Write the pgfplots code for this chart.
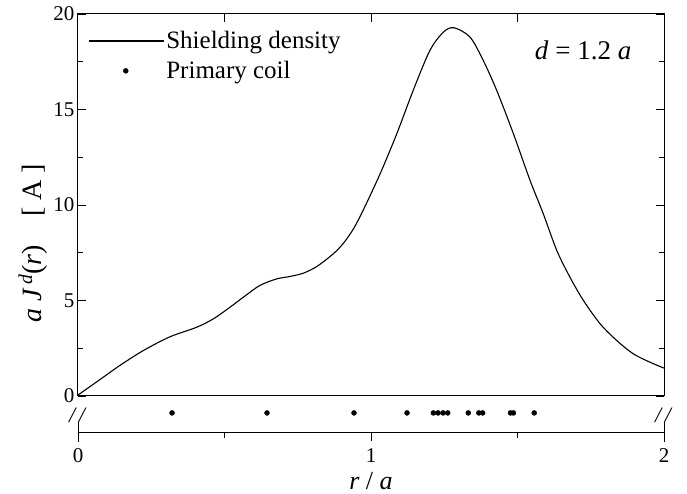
\documentclass[border=0pt]{standalone}
\usepackage{pgfplots}
\pgfplotsset{compat=1.18}
\usepackage{pgfplotstable}
\usepackage{fontspec}
\setmainfont{Liberation Serif}

% shielding current density
\pgfplotstableread{
r j
0.000 0.05
0.086 0.98
0.143 1.60
0.223 2.38
0.314 3.10
0.405 3.60
0.462 4.04
0.519 4.65
0.564 5.17
0.621 5.79
0.678 6.13
0.724 6.26
0.769 6.43
0.815 6.78
0.871 7.44
0.906 8.00
0.940 8.75
0.974 9.75
1.031 11.63
1.088 13.73
1.144 16.00
1.201 18.09
1.247 19.05
1.283 19.28
1.338 18.79
1.383 17.57
1.429 16.00
1.486 13.73
1.543 11.28
1.588 9.54
1.634 7.62
1.679 6.22
1.725 5.00
1.782 3.78
1.839 2.90
1.895 2.21
1.952 1.77
2.000 1.46
}\shield

% primary coil turns
\pgfplotstableread{
r y
0.321 0.53
0.645 0.53
0.942 0.53
1.123 0.53
1.213 0.53
1.229 0.53
1.246 0.53
1.262 0.53
1.332 0.53
1.368 0.53
1.381 0.53
1.476 0.53
1.486 0.53
1.557 0.53
}\coil

\begin{document}
\begin{tikzpicture}
\useasboundingbox (-78pt,-98pt) rectangle (609pt,396pt);
\begin{axis}[
    at={(0pt,0pt)}, anchor=south west,
    width=586pt, height=382pt, scale only axis,
    xmin=0, xmax=2, ymin=0, ymax=20,
    xtick={0.5,1,1.5}, xticklabels={}, xtick pos=right,
    ytick={0,5,10,15,20}, minor y tick num=1,
    tick align=inside,
    major tick length=8pt, minor tick length=5pt,
    tick style={black, line width=0.8pt},
    axis line style={line width=1pt},
    ticklabel style={font=\fontsize{21}{23}\selectfont},
    /pgf/number format/assume math mode=true,
    ylabel={\textit{a J}\textsuperscript{\,\textit{d}}(\textit{r})\quad[ A ]},
    every axis y label/.style={at={(rel axis cs:-0.077,0.40)}, rotate=90, anchor=center,
        font=\fontsize{28}{30}\selectfont},
    legend cell align=left,
    legend style={at={(0.012,0.965)}, anchor=north west, draw=none, fill=none,
        font=\fontsize{25}{27}\selectfont, row sep=7pt},
    clip=false,
    ]
\addplot [black, line width=1.1pt, smooth, tension=0.5,
    legend image code/.code={\draw[black, line width=1.1pt] (0pt,0pt) -- (75pt,0pt);}]
    table [x=r, y=j] {\shield};
\addlegendentry{Shielding density}
\addlegendimage{only marks, mark=*, black,
    legend image code/.code={\fill[black] (37pt,0pt) circle (2.5pt);}}
\addlegendentry{Primary coil}
\node [font=\fontsize{27}{29}\selectfont] at (rel axis cs:0.862,0.905)
    {\textit{d} = 1.2 \textit{a}};
\end{axis}

\begin{axis}[
    at={(0pt,-36pt)}, anchor=south west,
    width=586pt, height=36pt, scale only axis,
    xmin=0, xmax=2, ymin=0, ymax=1,
    axis x line*=bottom, axis y line=none,
    xtick={0,1,2}, minor xtick={0.5,1.5},
    tick align=outside,
    major tick length=9pt, minor tick length=6pt,
    tick style={black, line width=0.8pt},
    axis line style={line width=1pt},
    extra x ticks={0,2}, extra x tick labels={},
    extra x tick style={tick align=center, major tick length=19pt},
    ticklabel style={font=\fontsize{21}{23}\selectfont},
    xticklabel style={yshift=-4pt},
    /pgf/number format/assume math mode=true,
    xlabel={\textit{r} / \textit{a}},
    xlabel style={font=\fontsize{26}{28}\selectfont, yshift=16pt},
    clip=false,
    ]
\addplot [only marks, mark=*, mark size=2.5pt, black] table [x=r, y=y] {\coil};
\node [font=\fontsize{22}{24}\selectfont, yshift=-2pt] at (rel axis cs:0,0.53) {\textit{/\,/}};
\node [font=\fontsize{22}{24}\selectfont, yshift=-2pt] at (rel axis cs:1,0.53) {\textit{/\,/}};
\end{axis}
\end{tikzpicture}
\end{document}
